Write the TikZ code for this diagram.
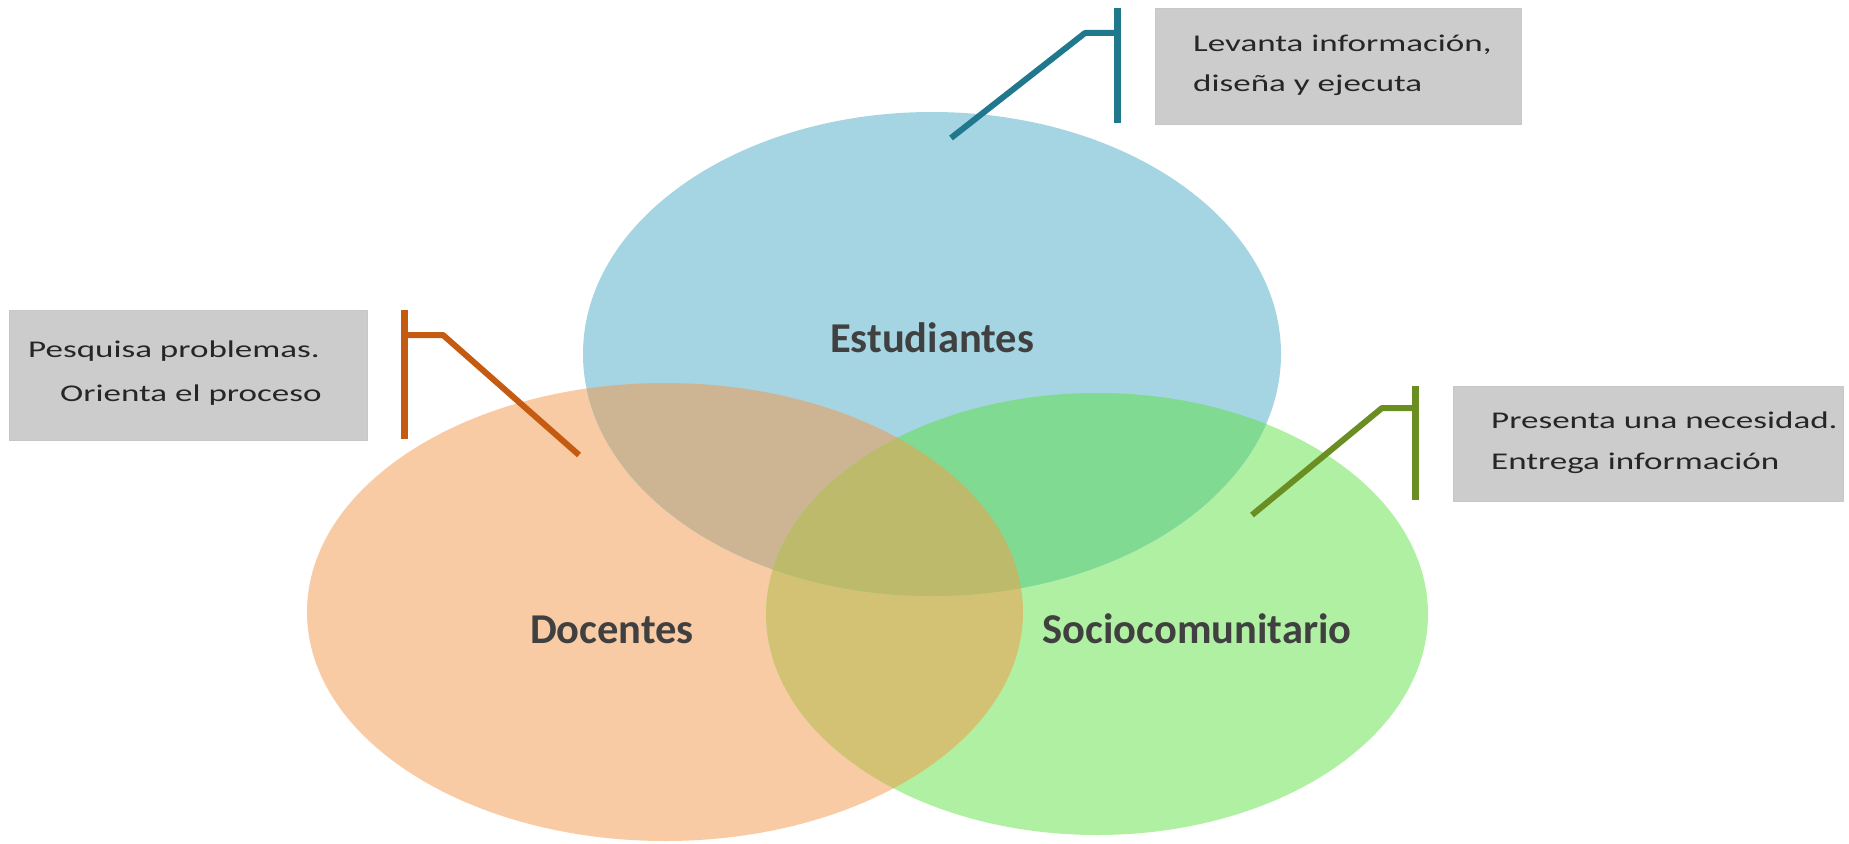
\documentclass[tikz,border=0pt]{standalone}
\usepackage{fontspec}
\setmainfont{Carlito}
\newfontfamily\calloutfont[FakeStretch=1.46]{Carlito}
\definecolor{blueC}{RGB}{165,213,226}
\definecolor{orangeC}{RGB}{249,203,165}
\definecolor{greenC}{RGB}{176,240,162}
\definecolor{obC}{RGB}{205,181,148}
\definecolor{ogC}{RGB}{212,194,116}
\definecolor{bgC}{RGB}{128,218,146}
\definecolor{allC}{RGB}{189,186,108}
\definecolor{labelC}{RGB}{64,64,64}
\definecolor{boxgray}{RGB}{204,204,204}
\definecolor{tealL}{RGB}{31,120,140}
\definecolor{orangeL}{RGB}{197,90,17}
\definecolor{oliveL}{RGB}{107,142,35}
\begin{document}
\begin{tikzpicture}[x=1pt,y=-1pt,
  setlabel/.style={text=labelC, font=\fontsize{42.5}{50}\selectfont\bfseries, anchor=base, inner sep=0pt},
  calltext/.style={text=black!85, font=\calloutfont\fontsize{24}{28}\selectfont, anchor=base west, inner sep=0pt},
  callbox/.style={fill=boxgray, draw=black!22, line width=1pt, anchor=north west, inner sep=0pt},
  lead/.style={line width=6pt, line join=round},
  bar/.style={line width=7pt}]
\useasboundingbox (0,0) rectangle (1849,843);
% base ellipses
\fill[orangeC] (665,612) ellipse [x radius=358pt, y radius=229pt];
\fill[greenC] (1097,614) ellipse [x radius=331pt, y radius=221pt];
\fill[blueC] (932,354) ellipse [x radius=349pt, y radius=242pt];
% overlaps
\begin{scope}
  \clip (665,612) ellipse [x radius=358pt, y radius=229pt];
  \fill[obC] (932,354) ellipse [x radius=349pt, y radius=242pt];
  \fill[ogC] (1097,614) ellipse [x radius=331pt, y radius=221pt];
\end{scope}
\begin{scope}
  \clip (932,354) ellipse [x radius=349pt, y radius=242pt];
  \fill[bgC] (1097,614) ellipse [x radius=331pt, y radius=221pt];
\end{scope}
\begin{scope}
  \clip (665,612) ellipse [x radius=358pt, y radius=229pt];
  \clip (932,354) ellipse [x radius=349pt, y radius=242pt];
  \fill[allC] (1097,614) ellipse [x radius=331pt, y radius=221pt];
\end{scope}
% labels
\node[setlabel] (est) at (932,352) {Estudiantes};
\node[setlabel] (doc) at (612,643) {Docentes};
\node[setlabel] (soc) at (1197,643) {Sociocomunitario};
% top callout
\node[callbox, minimum width=366pt, minimum height=116pt] (tbox) at (1155,8) {};
\node[calltext] (t1) at (1193,52) {Levanta información,};
\node[calltext] (t2) at (1193,92) {diseña y ejecuta};
\coordinate (tEnd) at (951,138);
\coordinate (tBend) at (1085,33);
\coordinate (tJoin) at (1117,33);
\coordinate (tBarTop) at (1117,8);
\coordinate (tBarBot) at (1117,123);
\draw[lead, tealL] (tEnd) -- (tBend) -- (tJoin);
\draw[bar, tealL] (tBarTop) -- (tBarBot);
% left callout
\node[callbox, minimum width=358pt, minimum height=130pt] (lbox) at (9,310) {};
\node[calltext] (l1) at (28,357) {Pesquisa problemas.};
\node[calltext] (l2) at (60,401) {Orienta el proceso};
\coordinate (lEnd) at (579,455);
\coordinate (lBend) at (443,335);
\coordinate (lJoin) at (404,335);
\coordinate (lBarTop) at (404,310);
\coordinate (lBarBot) at (404,439);
\draw[lead, orangeL] (lEnd) -- (lBend) -- (lJoin);
\draw[bar, orangeL] (lBarTop) -- (lBarBot);
% right callout
\node[callbox, minimum width=390pt, minimum height=115pt] (rbox) at (1453,386) {};
\node[calltext] (r1) at (1491,428) {Presenta una necesidad.};
\node[calltext] (r2) at (1491,469) {Entrega información};
\coordinate (rEnd) at (1252,515);
\coordinate (rBend) at (1382,408);
\coordinate (rJoin) at (1415,408);
\coordinate (rBarTop) at (1415,386);
\coordinate (rBarBot) at (1415,500);
\draw[lead, oliveL] (rEnd) -- (rBend) -- (rJoin);
\draw[bar, oliveL] (rBarTop) -- (rBarBot);
\end{tikzpicture}
\end{document}
